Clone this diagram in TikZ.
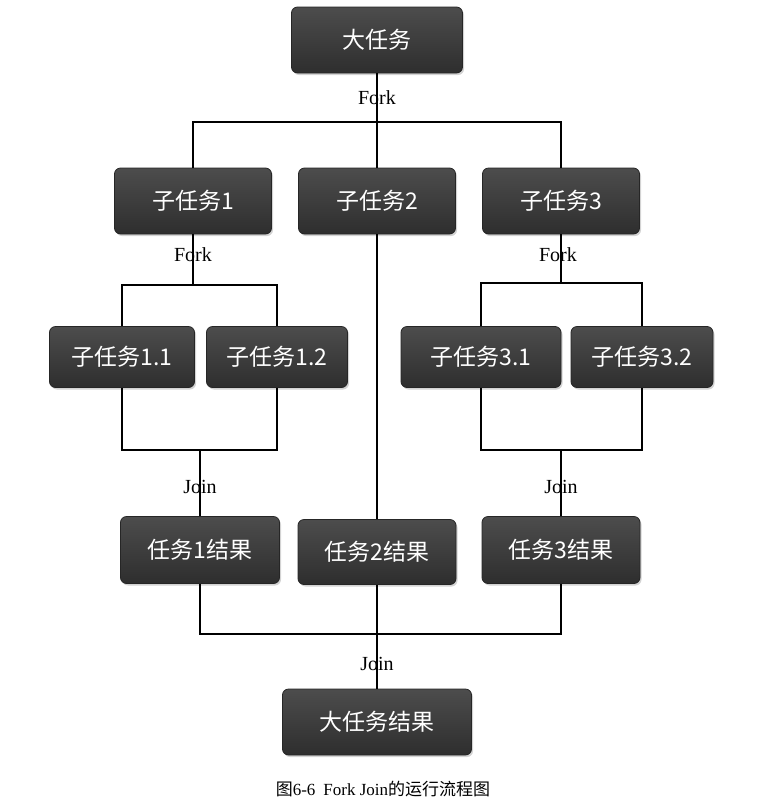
\documentclass[tikz,border=0pt]{standalone}
\usepackage{fontspec}
\setmainfont{Liberation Serif}
\newfontfamily\cjk{Noto Sans CJK SC}
\usetikzlibrary{shadows}
\begin{document}
\begin{tikzpicture}[x=1pt,y=-1pt,
  box/.style={draw=black!85,line width=0.8pt,rounded corners=6pt,top color=black!70,bottom color=black!82,
    text=white,font=\cjk\fontsize{23}{26}\selectfont,inner sep=0pt,
    drop shadow={shadow xshift=1.5pt,shadow yshift=-2pt,opacity=0.35}},
  lbl/.style={font=\fontsize{20}{23}\selectfont,inner sep=1pt},
  ln/.style={line width=1.1pt,black}]
\useasboundingbox (0,0) rectangle (783,807);
\node[box,minimum width=171pt,minimum height=66pt] (big) at (377,40) {大任务};
\node[box,minimum width=157pt,minimum height=66pt] (s1) at (193,201) {子任务1};
\node[box,minimum width=157pt,minimum height=66pt] (s2) at (377,201) {子任务2};
\node[box,minimum width=157pt,minimum height=66pt] (s3) at (561,201) {子任务3};
\node[box,minimum width=145pt,minimum height=61pt] (s11) at (122,357) {子任务1.1};
\node[box,minimum width=141pt,minimum height=61pt] (s12) at (277,357) {子任务1.2};
\node[box,minimum width=160pt,minimum height=61pt] (s31) at (481,357) {子任务3.1};
\node[box,minimum width=142pt,minimum height=61pt] (s32) at (642,357) {子任务3.2};
\node[box,minimum width=159pt,minimum height=67pt] (r1) at (200,550) {任务1结果};
\node[box,minimum width=158pt,minimum height=65pt] (r2) at (377,552) {任务2结果};
\node[box,minimum width=158pt,minimum height=67pt] (r3) at (561,550) {任务3结果};
\node[box,minimum width=189pt,minimum height=66pt] (rb) at (377,722) {大任务结果};
\coordinate (f0) at (377,122);
\draw[ln] (big.south) -- (f0);
\draw[ln] (s1.north) |- (s3.north |- f0) -- (s3.north);
\draw[ln] (f0) -- (s2.north);
\coordinate (f1) at (193,285);
\draw[ln] (s1.south) -- (f1);
\draw[ln] (s11.north) |- (s12.north |- f1) -- (s12.north);
\coordinate (f3) at (561,283);
\draw[ln] (s3.south) -- (f3);
\draw[ln] (s31.north) |- (s32.north |- f3) -- (s32.north);
\draw[ln] (s11.south) |- (s12.south |- 0,450) -- (s12.south);
\coordinate (j1) at (200,450);
\draw[ln] (j1) -- (r1.north);
\draw[ln] (s31.south) |- (s32.south |- 0,450) -- (s32.south);
\coordinate (j3) at (561,450);
\draw[ln] (j3) -- (r3.north);
\draw[ln] (s2.south) -- (r2.north);
\coordinate (j0) at (377,634);
\draw[ln] (r1.south) |- (r3.south |- j0) -- (r3.south);
\draw[ln] (r2.south) -- (rb.north);
\node[lbl] (lf0) at (377,98) {Fork};
\node[lbl] (lf1) at (193,255) {Fork};
\node[lbl] (lf3) at (558,255) {Fork};
\node[lbl] (lj1) at (200,487) {Join};
\node[lbl] (lj3) at (561,487) {Join};
\node[lbl] (lj0) at (377,664) {Join};
\node[font=\fontsize{17}{20}\selectfont] (cap) at (383,789) {{\cjk 图}6-6\hspace{8pt}Fork Join{\cjk 的运行流程图}};
\end{tikzpicture}
\end{document}
